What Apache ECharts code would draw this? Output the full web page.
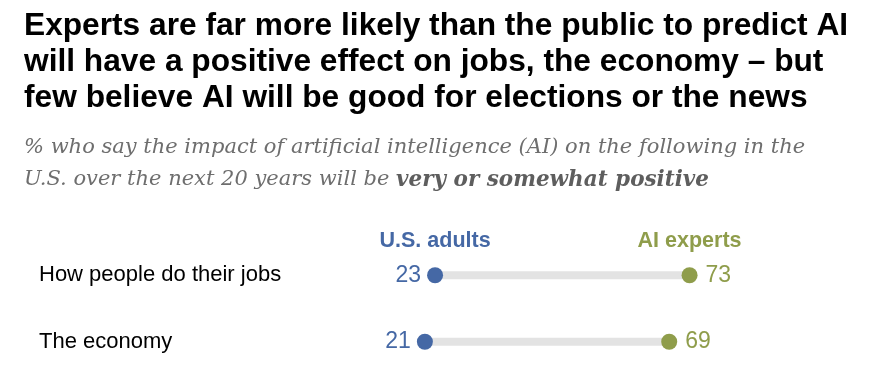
<!DOCTYPE html>
<html>
<head>
    <meta charset="utf-8">
    <title>AI impact</title>
    <script src="https://cdn.jsdelivr.net/npm/echarts@6/dist/echarts.min.js"></script>
    <style>
        body { margin: 0; background: #fff; }
        #main { width: 886px; height: 376px; }
    </style>
</head>
<body>
    <div id="main"></div>
    <script type="text/javascript">
        // data
        var categories = ['How people do their jobs', 'The economy'];
        var adults = [23, 21];
        var experts = [73, 69];
        var seriesNames = ['U.S. adults', 'AI experts'];

        var blue = '#4568a5';
        var olive = '#8f9d4b';

        var chart = echarts.init(document.getElementById('main'));

        var rangeData = categories.map(function (c, i) {
            return [adults[i], experts[i], i];
        });

        var option = {
            animation: false,
            title: [{
                text: 'Experts are far more likely than the public to predict AI\nwill have a positive effect on jobs, the economy \u2013 but\nfew believe AI will be good for elections or the news',
                left: 24,
                top: 8,
                padding: 0,
                textStyle: {
                    fontFamily: 'Liberation Sans',
                    fontWeight: 'bold',
                    fontSize: 31.7,
                    lineHeight: 36,
                    color: '#000'
                }
            }, {
                text: '{i|% who say the impact of artificial intelligence (AI) on the following in the}\n{i|U.S. over the next 20 years will be }{b|very or somewhat positive}',
                left: 24,
                top: 132,
                padding: 0,
                textStyle: {
                    fontWeight: 'normal',
                    rich: {
                        i: { fontFamily: 'DejaVu Serif', fontStyle: 'italic', fontWeight: 'normal', fontSize: 21, color: '#6e6e6e', lineHeight: 32 },
                        b: { fontFamily: 'DejaVu Serif', fontStyle: 'italic', fontWeight: 'bold', fontSize: 21.5, color: '#5e5e5e', lineHeight: 32 }
                    }
                }
            }],
            grid: {
                left: 318,
                right: 59,
                top: 242,
                height: 133
            },
            xAxis: {
                type: 'value',
                min: 0,
                max: 100,
                show: false
            },
            yAxis: {
                type: 'category',
                data: categories,
                inverse: true,
                axisLine: { show: false },
                axisTick: { show: false },
                splitLine: { show: false },
                axisLabel: {
                    margin: 279,
                    align: 'left',
                    fontFamily: 'Liberation Sans',
                    fontSize: 22,
                    color: '#000'
                }
            },
            series: [{
                type: 'custom',
                name: 'range',
                data: rangeData,
                encode: { x: [0, 1], y: 2 },
                renderItem: function (params, api) {
                    var a = api.coord([api.value(0), api.value(2)]);
                    var b = api.coord([api.value(1), api.value(2)]);
                    return {
                        type: 'line',
                        shape: { x1: a[0], y1: a[1], x2: b[0], y2: b[1] },
                        style: { stroke: '#e3e3e3', lineWidth: 8 }
                    };
                },
                z: 1
            }, {
                type: 'scatter',
                name: seriesNames[0],
                data: adults.map(function (v, i) { return [v, i]; }),
                symbolSize: 16,
                itemStyle: { color: blue, opacity: 1 },
                label: {
                    show: true,
                    position: 'left',
                    distance: 6,
                    formatter: function (p) { return p.value[0]; },
                    fontFamily: 'Liberation Sans',
                    fontSize: 23,
                    color: blue
                },
                z: 3
            }, {
                type: 'scatter',
                name: seriesNames[1],
                data: experts.map(function (v, i) { return [v, i]; }),
                symbolSize: 16,
                itemStyle: { color: olive, opacity: 1 },
                label: {
                    show: true,
                    position: 'right',
                    distance: 8,
                    formatter: function (p) { return p.value[0]; },
                    fontFamily: 'Liberation Sans',
                    fontSize: 23,
                    color: olive
                },
                z: 3
            }, {
                // column headers sit above the first row's dots
                type: 'scatter',
                name: 'headers',
                data: [
                    { value: [adults[0], 0, seriesNames[0]], label: { color: blue } },
                    { value: [experts[0], 0, seriesNames[1]], label: { color: olive } }
                ],
                symbolSize: 1,
                silent: true,
                itemStyle: { opacity: 0 },
                label: {
                    show: true,
                    position: 'top',
                    distance: 23,
                    opacity: 1,
                    formatter: function (p) { return p.value[2]; },
                    fontFamily: 'Liberation Sans',
                    fontWeight: 'bold',
                    fontSize: 21.5
                },
                z: 3
            }]
        };

        chart.setOption(option);
    </script>
</body>
</html>
